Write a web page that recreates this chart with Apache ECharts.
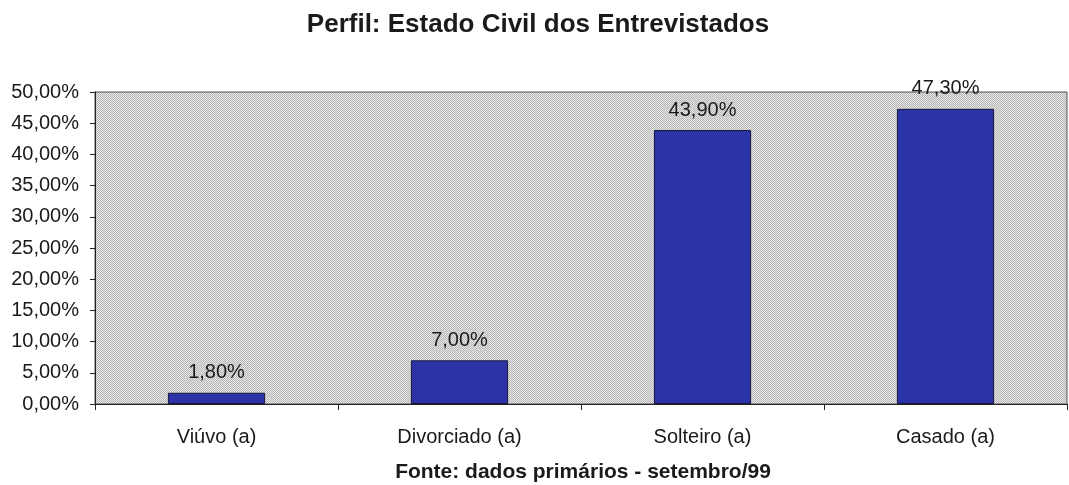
<!DOCTYPE html>
<html>
<head>
<meta charset="utf-8">
<script src="https://cdn.jsdelivr.net/npm/echarts@6/dist/echarts.min.js"></script>
<style>html,body{margin:0;padding:0;background:#fff;}#c{width:1069px;height:485px;}</style>
</head>
<body>
<div id="c"></div>
<script>
var categories = ['Viúvo (a)', 'Divorciado (a)', 'Solteiro (a)', 'Casado (a)'];
var values = [1.8, 7.0, 43.9, 47.3];
var titleText = 'Perfil: Estado Civil dos Entrevistados';
var sourceText = 'Fonte: dados primários - setembro/99';

function pct(v) { return v.toFixed(2).replace('.', ',') + '%'; }

// dotted plot-area fill pattern
var pc = document.createElement('canvas');
pc.width = 2; pc.height = 2;
var g = pc.getContext('2d');
g.fillStyle = '#e6e6e6'; g.fillRect(0, 0, 2, 2);
g.fillStyle = '#b6b6b6'; g.fillRect(0, 0, 1, 1); g.fillRect(1, 1, 1, 1);

var chart = echarts.init(document.getElementById('c'));
chart.setOption({
  animation: false,
  backgroundColor: '#ffffff',
  title: [
    { text: titleText, left: 533, top: 20, textAlign: 'center', textVerticalAlign: 'middle',
      textStyle: { fontFamily: 'Liberation Sans, Arial', fontWeight: 'bold', fontSize: 26, color: '#1a1a1a' } },
    { text: sourceText, left: 578, top: 467, textAlign: 'center', textVerticalAlign: 'middle',
      textStyle: { fontFamily: 'Liberation Sans, Arial', fontWeight: 'bold', fontSize: 21, color: '#1a1a1a' } }
  ],
  grid: { left: 95, right: 2, top: 92, bottom: 81, show: true,
    backgroundColor: { image: pc, repeat: 'repeat' }, borderColor: '#555', borderWidth: 1 },
  xAxis: {
    type: 'category', data: categories, boundaryGap: true,
    axisLine: { lineStyle: { color: '#222', width: 1 } },
    axisTick: { show: true, length: 6, lineStyle: { color: '#222' } },
    axisLabel: { margin: 23, fontFamily: 'Liberation Sans, Arial', fontSize: 20, color: '#1a1a1a' }
  },
  yAxis: {
    type: 'value', min: 0, max: 50, interval: 5,
    axisLine: { show: true, lineStyle: { color: '#222', width: 1 } },
    axisTick: { show: true, length: 5, lineStyle: { color: '#222' } },
    splitLine: { show: false },
    axisLabel: { margin: 16, formatter: pct, fontFamily: 'Liberation Sans, Arial', fontSize: 20, color: '#1a1a1a' }
  },
  series: [{
    type: 'bar', data: values, barWidth: '40%',
    itemStyle: { color: '#2b33a6', borderColor: '#15153a', borderWidth: 1 },
    label: { show: true, position: 'top', distance: 10, formatter: function (p) { return pct(p.value); },
      fontFamily: 'Liberation Sans, Arial', fontSize: 20, color: '#1a1a1a' }
  }]
});
</script>
</body>
</html>
